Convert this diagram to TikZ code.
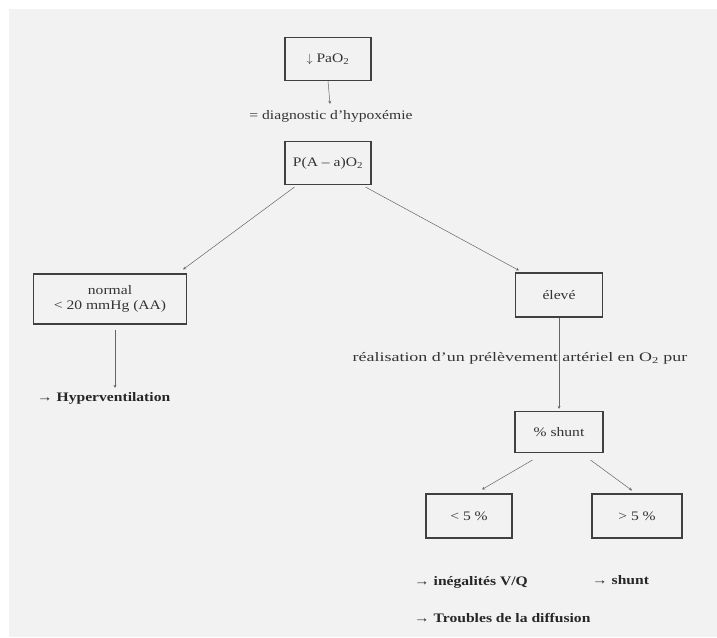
\documentclass[tikz,border=0pt]{standalone}
\usepackage{fontspec}
\setmainfont[FakeStretch=1.2]{Liberation Serif}
\usetikzlibrary{arrows.meta,calc}
\begin{document}
\begin{tikzpicture}[x=1pt,y=-1pt,
  box/.style={draw=black!75,line width=1.1pt,rectangle,inner sep=0pt,align=center,font=\fontsize{13}{15}\selectfont,text=black!80},
  txt/.style={inner sep=0pt,font=\fontsize{13}{15}\selectfont,text=black!80},
  btxt/.style={inner sep=0pt,anchor=west,font=\fontsize{13}{15}\selectfont\bfseries,text=black!85},
  conn/.style={draw=black!60,line width=0.5pt,-{Stealth[length=3pt,width=3pt]}}]
\useasboundingbox (0,0) rectangle (717,637);
\fill[white] (0,0) rectangle (717,637);
\fill[black!5] (9,9) rectangle (717,637);
% boxes and texts
\node[box,minimum width=86pt,minimum height=43pt] (pao) at (328,59) {$\downarrow$ PaO\textsubscript{2}};
\node[txt] (diag) at (331,116) {= diagnostic d'hypoxémie};
\node[box,minimum width=86pt,minimum height=43pt] (paa) at (328,163) {P(A – a)O\textsubscript{2}};
\node[box,minimum width=153pt,minimum height=50pt] (norm) at (110,299) {normal\\< 20 mmHg (AA)};
\node[box,minimum width=87pt,minimum height=44pt] (elev) at (559,295) {élevé};
\node[txt] (real) at (520,358) {\scalebox{1.15}[1]{réalisation d'un prélèvement artériel en O\textsubscript{2} pur}};
\node[box,minimum width=88pt,minimum height=41pt] (shunt) at (559,432) {\% shunt};
\node[box,minimum width=86pt,minimum height=44pt] (lt) at (469,516) {< 5 \%};
\node[box,minimum width=90pt,minimum height=44pt] (gt) at (637,516) {> 5 \%};
\node[btxt] (hyper) at (37,398) {→ Hyperventilation};
\node[btxt] (ineg) at (414,582) {→ inégalités V/Q};
\node[btxt] (shu) at (592,580) {→ shunt};
\node[btxt] (trou) at (414,618) {→ Troubles de la diffusion};
% connectors
\draw[conn] (pao.south) -- ($(diag.north)+(-1,-6)$);
\draw[conn] ($(paa.south west)+(10,2)$) -- ($(norm.north east)+(-4,-4)$);
\draw[conn] ($(paa.south east)+(-6,2)$) -- ($(elev.north west)+(4,-2)$);
\coordinate (h1) at ($(norm.south)+(5,5)$);
\draw[conn,shorten >=4pt] (h1) -- (h1 |- hyper.north);
\draw[conn,shorten >=2pt] (elev.south) -- (shunt.north);
\draw[conn] ($(shunt.south west)+(18,7)$) -- ($(lt.north)+(13,-4)$);
\draw[conn] ($(shunt.south east)+(-13,7)$) -- ($(gt.north)+(-5,-3)$);
\end{tikzpicture}
\end{document}
